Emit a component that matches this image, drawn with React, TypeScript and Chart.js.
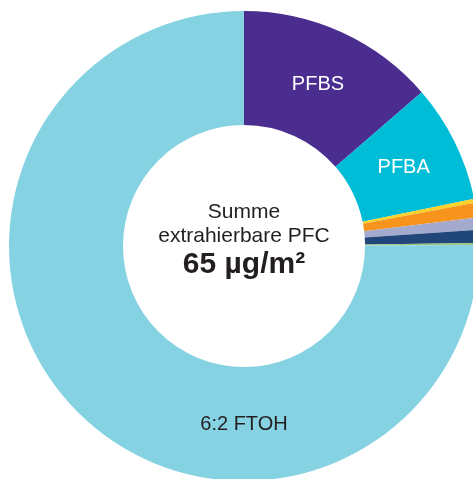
import { useEffect, useRef } from "react";
import { Chart, registerables } from "chart.js";

Chart.register(...registerables);

// Slices clockwise from 12 o'clock (µg/m²)
const categories = ["PFBS", "PFBA", "PFPeA", "PFHxA", "PFHpA", "PFOA", "PFOS", "6:2 FTOH"];
const values = [8.87, 5.29, 0.175, 0.66, 0.536, 0.587, 0.09, 48.8];
const sliceColors = ["#4A2D8F", "#00BDD7", "#FDD22B", "#F7941E", "#A3AACE", "#21477A", "#9FC37A", "#85D2E3"];
const shownLabels = ["PFBS", "PFBA", "", "", "", "", "", "6:2 FTOH"];
const labelColors = ["#FFFFFF", "#FFFFFF", "", "", "", "", "", "#231F20"];
// label angle override (degrees clockwise from top); null = slice middle
const labelAngles: (number | null)[] = [null, null, null, null, null, null, null, 180];
const centerLines = ["Summe", "extrahierbare PFC", "65 µg/m²"];

const FONT = '"Liberation Sans", Arial, Helvetica, sans-serif';

const labelPlugin = {
  id: "sliceLabels",
  afterDatasetsDraw(chart: any) {
    const ctx = chart.ctx as CanvasRenderingContext2D;
    const meta = chart.getDatasetMeta(0);
    ctx.save();
    meta.data.forEach((arc: any, i: number) => {
      const text = shownLabels[i];
      if (!text) return;
      const p = arc.getProps(["x", "y", "startAngle", "endAngle", "innerRadius", "outerRadius"], true);
      const ang =
        labelAngles[i] !== null
          ? ((labelAngles[i] as number) - 90) * (Math.PI / 180)
          : (p.startAngle + p.endAngle) / 2;
      const r = (p.innerRadius + p.outerRadius) / 2;
      ctx.font = `20px ${FONT}`;
      ctx.fillStyle = labelColors[i];
      ctx.textAlign = "center";
      ctx.textBaseline = "middle";
      ctx.fillText(text, p.x + Math.cos(ang) * r, p.y + Math.sin(ang) * r);
    });
    const first = meta.data[0];
    if (first) {
      const cx = first.x;
      const cy = first.y;
      ctx.fillStyle = "#231F20";
      ctx.textAlign = "center";
      ctx.textBaseline = "alphabetic";
      ctx.font = `21px ${FONT}`;
      ctx.fillText(centerLines[0], cx, cy - 28);
      ctx.fillText(centerLines[1], cx, cy - 4);
      ctx.font = `bold 30px ${FONT}`;
      ctx.fillText(centerLines[2], cx, cy + 27);
    }
    ctx.restore();
  },
};

export default function App() {
  const ref = useRef<HTMLCanvasElement | null>(null);
  useEffect(() => {
    if (!ref.current) return;
    const chart = new Chart(ref.current, {
      type: "doughnut",
      data: {
        labels: categories,
        datasets: [
          {
            data: values,
            backgroundColor: sliceColors,
            borderWidth: 0,
          },
        ],
      },
      options: {
        animation: false,
        responsive: false,
        cutout: "51.5%",
        layout: { padding: 0 },
        plugins: {
          legend: { display: false },
          tooltip: { enabled: false },
        },
        events: [],
      },
      plugins: [labelPlugin],
    });
    return () => chart.destroy();
  }, []);
  return (
    <div
      style={{
        position: "fixed",
        left: 0,
        top: 0,
        width: 473,
        height: 479,
        overflow: "hidden",
        background: "#fff",
      }}
    >
      <canvas
        ref={ref}
        width={470}
        height={470}
        style={{ position: "absolute", left: 9, top: 11, width: 470, height: 470 }}
      />
    </div>
  );
}
